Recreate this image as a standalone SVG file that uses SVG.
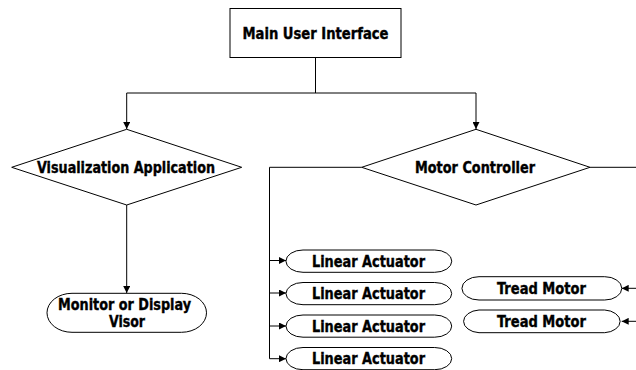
<svg xmlns="http://www.w3.org/2000/svg" width="636" height="370" viewBox="0 0 636 370">
  <style>
    .shape { fill: #ffffff; stroke: #000000; stroke-width: 1; }
    .conn { fill: none; stroke: #000000; stroke-width: 1; }
    .lbl { font-family: "DejaVu Sans Condensed", "DejaVu Sans", "Liberation Sans", sans-serif; font-weight: bold; font-size: 15px; fill: #000000; stroke: #000000; stroke-width: 0.35; text-anchor: middle; }
  </style>
  <defs>
    <marker id="arrow" markerUnits="userSpaceOnUse" markerWidth="7" markerHeight="7" refX="7" refY="3.5" orient="auto">
      <path d="M0,0 L7,3.5 L0,7 Z" fill="#000000"/>
    </marker>
  </defs>
  <rect width="636" height="370" fill="#ffffff"/>

  <g id="connectors">
    <path class="conn" d="M315.5,57.5 V93"/>
    <path class="conn" d="M126.7,93 H476"/>
    <path class="conn" d="M126.7,93 V129" marker-end="url(#arrow)"/>
    <path class="conn" d="M476,93 V129" marker-end="url(#arrow)"/>
    <path class="conn" d="M126.7,205 V293" marker-end="url(#arrow)"/>
    <path class="conn" d="M361.7,167.3 H269.5 V358.7"/>
    <path class="conn" d="M269.5,260.5 H286" marker-end="url(#arrow)"/>
    <path class="conn" d="M269.5,293 H286" marker-end="url(#arrow)"/>
    <path class="conn" d="M269.5,326 H286" marker-end="url(#arrow)"/>
    <path class="conn" d="M269.5,358.7 H286" marker-end="url(#arrow)"/>
    <path class="conn" d="M590,167.3 H636"/>
    <path class="conn" d="M636,288.3 H621.7" marker-end="url(#arrow)"/>
    <path class="conn" d="M636,321.3 H621.7" marker-end="url(#arrow)"/>
  </g>

  <g id="main-ui">
    <rect class="shape" x="230" y="8.5" width="171" height="49"/>
    <text class="lbl" x="315.5" y="39.3" textLength="146" lengthAdjust="spacingAndGlyphs">Main User Interface</text>
  </g>

  <g id="visualization-app">
    <polygon class="shape" points="126.7,129.3 241.7,167.3 126.7,205 11.7,167.3"/>
    <text class="lbl" x="126" y="172.7" textLength="178" lengthAdjust="spacingAndGlyphs">Visualization Application</text>
  </g>

  <g id="motor-controller">
    <polygon class="shape" points="476,129.3 590,167.3 476,205 361.7,167.3"/>
    <text class="lbl" x="475" y="173.2" textLength="120" lengthAdjust="spacingAndGlyphs">Motor Controller</text>
  </g>

  <g id="monitor-visor">
    <path class="shape" d="M72,293.3 H181.5 A25 19.5 0 0 1 181.5 332.3 H72 A25 19.5 0 0 1 72 293.3 Z"/>
    <text class="lbl" x="124.5" y="310" textLength="133" lengthAdjust="spacingAndGlyphs">Monitor or Display</text>
    <text class="lbl" x="127" y="327" textLength="36" lengthAdjust="spacingAndGlyphs">Visor</text>
  </g>

  <g id="linear-actuator-1">
    <path class="shape" d="M303,250 H434.7 A17 11.1 0 0 1 434.7 272.3 H303 A17 11.1 0 0 1 303 250 Z"/>
    <text class="lbl" x="368.5" y="266.7" textLength="113" lengthAdjust="spacingAndGlyphs">Linear Actuator</text>
  </g>
  <g id="linear-actuator-2">
    <path class="shape" d="M303,282.5 H434.7 A17 11.1 0 0 1 434.7 304.7 H303 A17 11.1 0 0 1 303 282.5 Z"/>
    <text class="lbl" x="368.5" y="299.1" textLength="113" lengthAdjust="spacingAndGlyphs">Linear Actuator</text>
  </g>
  <g id="linear-actuator-3">
    <path class="shape" d="M303,315 H434.7 A17 11.1 0 0 1 434.7 337.2 H303 A17 11.1 0 0 1 303 315 Z"/>
    <text class="lbl" x="368.5" y="331.6" textLength="113" lengthAdjust="spacingAndGlyphs">Linear Actuator</text>
  </g>
  <g id="linear-actuator-4">
    <path class="shape" d="M303,347.5 H434.7 A17 11.1 0 0 1 434.7 369.7 H303 A17 11.1 0 0 1 303 347.5 Z"/>
    <text class="lbl" x="368.5" y="364.1" textLength="113" lengthAdjust="spacingAndGlyphs">Linear Actuator</text>
  </g>

  <g id="tread-motor-1">
    <path class="shape" d="M479,276.7 H604.7 A17 11.6 0 0 1 604.7 300 H479 A17 11.6 0 0 1 479 276.7 Z"/>
    <text class="lbl" x="541.5" y="294" textLength="89" lengthAdjust="spacingAndGlyphs">Tread Motor</text>
  </g>
  <g id="tread-motor-2">
    <path class="shape" d="M479,310 H604.7 A17 11.4 0 0 1 604.7 332.7 H479 A17 11.4 0 0 1 479 310 Z"/>
    <text class="lbl" x="541.5" y="326.7" textLength="89" lengthAdjust="spacingAndGlyphs">Tread Motor</text>
  </g>
</svg>
